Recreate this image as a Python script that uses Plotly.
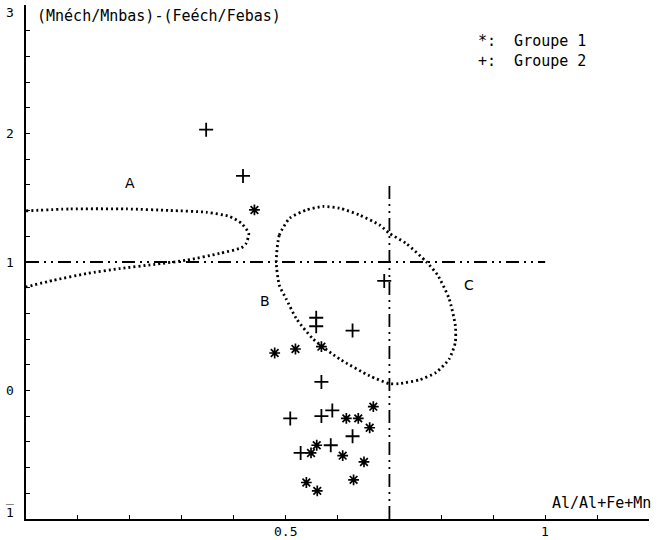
import plotly.graph_objects as go

# ---------------- data ----------------
g1_x = [0.440, 0.479, 0.519, 0.569, 0.669, 0.617, 0.640, 0.662, 0.560, 0.549, 0.610, 0.651, 0.631, 0.540, 0.561]
g1_y = [1.405, 0.292, 0.323, 0.341, -0.126, -0.217, -0.217, -0.290, -0.426, -0.486, -0.507, -0.556, -0.695, -0.716, -0.781]

g2_x = [0.347, 0.418, 0.690, 0.559, 0.559, 0.629, 0.569, 0.509, 0.569, 0.590, 0.629, 0.529, 0.587]
g2_y = [2.03, 1.67, 0.853, 0.566, 0.50, 0.466, 0.067, -0.217, -0.199, -0.155, -0.356, -0.486, -0.426]

# contour A (open, starting on the y axis)
a_x = [0.0, 0.085, 0.194, 0.277, 0.348, 0.392, 0.415, 0.429, 0.424, 0.415, 0.373, 0.309, 0.245, 0.181, 0.117, 0.053, 0.0]
a_y = [1.398, 1.413, 1.413, 1.401, 1.387, 1.354, 1.301, 1.223, 1.145, 1.111, 1.067, 1.014, 0.980, 0.949, 0.910, 0.858, 0.806]

# contour B/C (closed)
bc_x = [0.482, 0.488, 0.508, 0.540, 0.572, 0.604, 0.642, 0.681, 0.700, 0.732, 0.771, 0.793, 0.815, 0.827,
        0.827, 0.815, 0.790, 0.758, 0.719, 0.700, 0.662, 0.604, 0.553, 0.521, 0.501, 0.488, 0.482]
bc_y = [1.002, 1.210, 1.341, 1.405, 1.432, 1.419, 1.366, 1.288, 1.223, 1.145, 1.002, 0.897, 0.714, 0.505,
        0.375, 0.245, 0.141, 0.083, 0.054, 0.053, 0.114, 0.245, 0.401, 0.558, 0.714, 0.818, 1.002]

# reference lines
h_line_x = [0.0, 1.0]
h_line_y = [1.0, 1.0]
v_line_x = [0.7, 0.7]
v_line_y = [-1.0, 1.6]

# labels
zone_labels = ["A", "B", "C"]
zone_x = [0.20, 0.46, 0.854]
zone_y = [1.614, 0.70, 0.818]

legend_texts = ["*:  Groupe 1", "+:  Groupe 2"]
y_title = "(Mnéch/Mnbas)-(Feéch/Febas)"
x_title = "Al/Al+Fe+Mn"

x_tick_vals = [round(0.1 * i, 1) for i in range(13)]
x_label_vals = [0.5, 1.0]
x_label_text = ["0.5", "1"]
y_tick_vals = [round(-1 + 0.2 * i, 1) for i in range(21)]
y_label_vals = [3.0, 2.0, 1.0, 0.0, -1.0]
y_label_text = ["3", "2", "1", "0", "1"]

# ---------------- figure ----------------
FONT = "DejaVu Sans Mono"
fig = go.Figure()

dot_style = dict(color="black", width=2.8, dash="2px,3px")
fig.add_trace(go.Scatter(x=a_x, y=a_y, mode="lines", line=dict(shape="spline", smoothing=0.6, **dot_style),
                         hoverinfo="skip", showlegend=False))
fig.add_trace(go.Scatter(x=bc_x, y=bc_y, mode="lines", line=dict(shape="spline", smoothing=0.6, **dot_style),
                         hoverinfo="skip", showlegend=False))

dashdot = "13px,5px,2px,5px,2px,5px"
fig.add_trace(go.Scatter(x=h_line_x, y=h_line_y, mode="lines",
                         line=dict(color="black", width=1.8, dash=dashdot), showlegend=False))
fig.add_trace(go.Scatter(x=v_line_x, y=v_line_y, mode="lines",
                         line=dict(color="black", width=1.8, dash=dashdot), showlegend=False))

fig.add_trace(go.Scatter(x=g1_x, y=g1_y, mode="markers", name="Groupe 1",
                         marker=dict(symbol="asterisk-open", size=9, color="black",
                                     line=dict(color="black", width=1.7)),
                         showlegend=False))
fig.add_trace(go.Scatter(x=g2_x, y=g2_y, mode="markers", name="Groupe 2",
                         marker=dict(symbol="cross-thin-open", size=10, color="black",
                                     line=dict(color="black", width=1.8)),
                         showlegend=False))

for t, x, y in zip(zone_labels, zone_x, zone_y):
    fig.add_annotation(x=x, y=y, text=t, showarrow=False, font=dict(family="DejaVu Sans", size=14, color="black"))

for i, t in enumerate(legend_texts):
    fig.add_annotation(x=0.867, y=2.722 - 0.158 * i, text=t, showarrow=False, xanchor="left",
                       font=dict(family=FONT, size=15, color="black"))

fig.add_annotation(x=0.017, y=2.917, text=y_title, showarrow=False, xanchor="left",
                   font=dict(family=FONT, size=15, color="black"))
fig.add_annotation(x=1.009, y=-0.875, text=x_title, showarrow=False, xanchor="left",
                   font=dict(family=FONT, size=15, color="black"))

# tick labels
tick_font = dict(family=FONT, size=13, color="black")
for v, t in zip(x_label_vals, x_label_text):
    fig.add_annotation(x=v, xref="x", y=0, yref="paper", yshift=-12, text=t, showarrow=False,
                       yanchor="middle", font=tick_font)
y_shift_map = {3.0: -7, -1.0: 7}
for v, t in zip(y_label_vals, y_label_text):
    fig.add_annotation(x=0, xref="paper", xshift=-16, y=v, yref="y", yshift=y_shift_map.get(v, 0),
                       text=t, showarrow=False, xanchor="center", yanchor="middle", font=tick_font)
# bar over the "1" of -1 (old plotter notation for negative)
fig.add_annotation(x=0, xref="paper", xshift=-16, y=-1.0, yref="y", yshift=10,
                   text="\u203e", showarrow=False, xanchor="center", yanchor="middle", font=tick_font)

fig.update_layout(
    width=659, height=540,
    margin=dict(l=26, r=10, t=5, b=21, autoexpand=False),
    paper_bgcolor="white", plot_bgcolor="white",
    showlegend=False,
    xaxis=dict(range=[0, 1.2], showgrid=False, zeroline=False, showline=True, linecolor="black", linewidth=1.5,
               ticks="inside", ticklen=4, tickcolor="black", tickwidth=1,
               tickvals=x_tick_vals, showticklabels=False, automargin=False),
    yaxis=dict(range=[-1, 3], showgrid=False, zeroline=False, showline=True, linecolor="black", linewidth=2,
               ticks="inside", ticklen=4, tickcolor="black", tickwidth=1,
               tickvals=y_tick_vals, showticklabels=False, automargin=False),
)

fig.write_html("out.html", config={"displayModeBar": False},
               post_script="document.body.style.margin='0';document.body.style.overflow='hidden';")
